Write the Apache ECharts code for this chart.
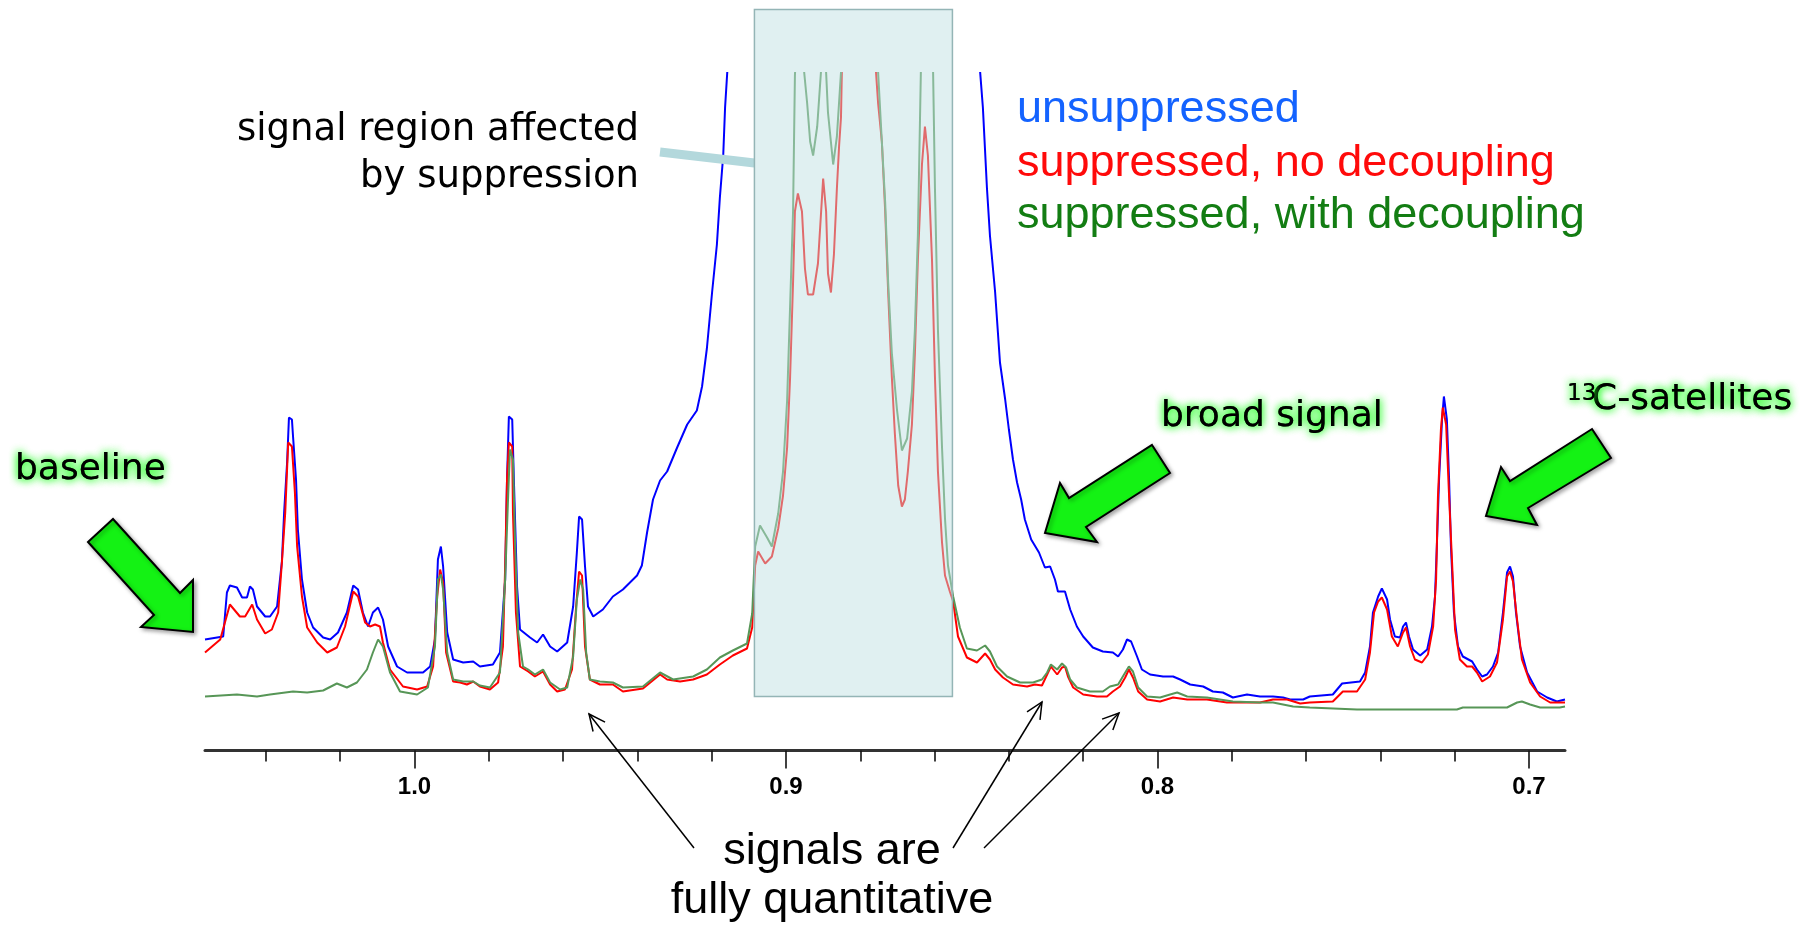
<!DOCTYPE html>
<html>
<head>
<meta charset="utf-8">
<script src="https://cdn.jsdelivr.net/npm/echarts@6/dist/echarts.min.js"></script>
<style>
html,body{margin:0;padding:0;background:#ffffff;}
#chart{width:1810px;height:934px;}
</style>
</head>
<body>
<div id="chart"></div>
<script>
// ---- axis (chemical shift, ppm) ----
const shiftMin = 0.6903;
const shiftMax = 1.0564;
const majorTicks = [0.7, 0.8, 0.9, 1.0];
const minorTicks = [0.72, 0.74, 0.76, 0.78, 0.82, 0.84, 0.86, 0.88, 0.92, 0.94, 0.96, 0.98, 1.02, 1.04];
const intensityMax = 677.5;

// ---- suppression region (ppm) and its intensity extent ----
const suppressionRegion = [0.9085, 0.8552];
const suppressionIntensity = [54, 741];

// ---- spectra: [ppm, intensity (a.u.)] ----
const unsuppressed = [
[1.0564,111],[1.0515,114],[1.0505,158],[1.0497,165],[1.0478,163],[1.0464,153],[1.0451,153],[1.0443,164],[1.0435,161],[1.0424,144],[1.0402,134],[1.0389,134],[1.0370,144],[1.0357,189],[1.0351,238],[1.0343,288],[1.0338,333],[1.0330,331],[1.0327,314],[1.0319,271],[1.0314,221],[1.0303,171],[1.0289,138],[1.0273,123],[1.0246,113],[1.0227,111],[1.0206,118],[1.0182,138],[1.0165,165],[1.0152,161],[1.0139,138],[1.0125,124],[1.0112,138],[1.0098,143],[1.0085,131],[1.0071,104],[1.0047,84],[1.0020,78],[0.9977,78],[0.9958,84],[0.9945,111],[0.9937,191],[0.9929,204],[0.9923,184],[0.9912,118],[0.9896,91],[0.9869,88],[0.9842,89],[0.9824,84],[0.9789,86],[0.9770,98],[0.9756,171],[0.9751,271],[0.9746,334],[0.9737,331],[0.9732,264],[0.9724,164],[0.9716,121],[0.9689,113],[0.9670,108],[0.9654,116],[0.9635,104],[0.9616,99],[0.9589,108],[0.9573,144],[0.9563,198],[0.9557,234],[0.9549,231],[0.9541,184],[0.9533,144],[0.9519,134],[0.9493,141],[0.9466,154],[0.9439,161],[0.9401,175],[0.9388,185],[0.9374,218],[0.9358,251],[0.9339,270],[0.9320,279],[0.9293,303],[0.9266,326],[0.9240,340],[0.9226,364],[0.9213,402],[0.9199,458],[0.9186,506],[0.9178,553],[0.9169,595],[0.9164,643],[0.9156,691],[0.9124,851],[0.8962,1000],[0.8693,1000],[0.8491,851],[0.8480,691],[0.8470,643],[0.8459,562],[0.8451,515],[0.8437,458],[0.8424,388],[0.8410,351],[0.8400,321],[0.8389,291],[0.8378,268],[0.8367,251],[0.8357,231],[0.8340,211],[0.8319,198],[0.8303,183],[0.8289,184],[0.8276,171],[0.8268,159],[0.8249,159],[0.8235,141],[0.8217,124],[0.8200,114],[0.8174,103],[0.8147,99],[0.8120,98],[0.8106,94],[0.8093,101],[0.8082,111],[0.8071,109],[0.8055,94],[0.8042,81],[0.8020,76],[0.7985,74],[0.7958,74],[0.7939,71],[0.7912,66],[0.7877,64],[0.7851,59],[0.7824,58],[0.7797,53],[0.7759,56],[0.7724,54],[0.7689,54],[0.7662,53],[0.7643,51],[0.7608,51],[0.7590,54],[0.7528,56],[0.7503,67],[0.7455,69],[0.7441,78],[0.7428,104],[0.7420,138],[0.7406,154],[0.7396,162],[0.7382,151],[0.7374,131],[0.7361,114],[0.7347,113],[0.7339,124],[0.7331,128],[0.7323,114],[0.7312,101],[0.7293,95],[0.7274,101],[0.7261,124],[0.7253,154],[0.7248,204],[0.7242,271],[0.7234,331],[0.7229,354],[0.7221,331],[0.7215,271],[0.7210,204],[0.7202,138],[0.7191,104],[0.7178,94],[0.7153,89],[0.7140,81],[0.7126,74],[0.7113,76],[0.7097,84],[0.7083,98],[0.7070,138],[0.7059,178],[0.7051,184],[0.7043,174],[0.7035,138],[0.7024,104],[0.7005,78],[0.6978,59],[0.6951,53],[0.6925,49],[0.6903,51]
];

const suppressedNoDecoupling = [
[1.0564,98],[1.0523,111],[1.0497,146],[1.0470,134],[1.0456,134],[1.0437,146],[1.0424,131],[1.0402,117],[1.0384,121],[1.0367,138],[1.0357,188],[1.0348,238],[1.0340,308],[1.0330,304],[1.0322,258],[1.0316,204],[1.0303,154],[1.0289,123],[1.0262,108],[1.0235,98],[1.0209,103],[1.0187,124],[1.0165,159],[1.0152,154],[1.0133,128],[1.0120,124],[1.0106,126],[1.0093,124],[1.0085,108],[1.0066,81],[1.0031,64],[0.9993,61],[0.9966,64],[0.9950,84],[0.9939,154],[0.9931,181],[0.9923,168],[0.9915,98],[0.9896,69],[0.9877,68],[0.9859,66],[0.9842,69],[0.9824,64],[0.9797,61],[0.9775,68],[0.9762,104],[0.9756,184],[0.9751,271],[0.9746,308],[0.9737,304],[0.9735,238],[0.9727,138],[0.9716,84],[0.9694,79],[0.9676,74],[0.9654,79],[0.9635,66],[0.9616,59],[0.9595,61],[0.9576,81],[0.9565,144],[0.9557,179],[0.9549,175],[0.9541,104],[0.9528,71],[0.9501,66],[0.9466,66],[0.9439,59],[0.9385,62],[0.9339,76],[0.9320,71],[0.9285,69],[0.9250,71],[0.9213,76],[0.9178,86],[0.9143,95],[0.9105,102],[0.9091,123],[0.9083,185],[0.9075,199],[0.9056,187],[0.9038,194],[0.9021,222],[0.9008,255],[0.8997,303],[0.8989,373],[0.8981,468],[0.8976,539],[0.8968,557],[0.8957,539],[0.8949,482],[0.8941,456],[0.8927,456],[0.8914,487],[0.8900,572],[0.8892,539],[0.8887,477],[0.8879,458],[0.8871,496],[0.8863,562],[0.8857,605],[0.8852,633],[0.8849,691],[0.8828,851],[0.8779,851],[0.8760,691],[0.8752,647],[0.8742,609],[0.8733,539],[0.8725,458],[0.8715,373],[0.8707,317],[0.8698,265],[0.8688,244],[0.8680,251],[0.8672,279],[0.8661,326],[0.8653,397],[0.8645,491],[0.8634,586],[0.8626,624],[0.8618,595],[0.8607,491],[0.8599,373],[0.8591,279],[0.8580,208],[0.8572,175],[0.8559,159],[0.8550,149],[0.8537,114],[0.8513,93],[0.8486,88],[0.8464,97],[0.8451,91],[0.8437,81],[0.8416,73],[0.8389,66],[0.8351,64],[0.8330,66],[0.8311,65],[0.8297,76],[0.8287,84],[0.8270,76],[0.8257,83],[0.8249,84],[0.8241,74],[0.8227,63],[0.8200,56],[0.8163,54],[0.8136,54],[0.8120,59],[0.8101,64],[0.8087,73],[0.8077,81],[0.8066,73],[0.8052,59],[0.8028,51],[0.7993,49],[0.7958,53],[0.7920,51],[0.7867,51],[0.7813,48],[0.7778,48],[0.7724,48],[0.7689,51],[0.7651,51],[0.7616,47],[0.7590,48],[0.7528,49],[0.7501,59],[0.7463,59],[0.7441,71],[0.7428,98],[0.7417,138],[0.7406,149],[0.7396,153],[0.7382,141],[0.7369,114],[0.7353,104],[0.7339,118],[0.7331,123],[0.7320,104],[0.7307,91],[0.7288,88],[0.7272,96],[0.7258,124],[0.7250,171],[0.7245,254],[0.7237,321],[0.7232,343],[0.7223,326],[0.7215,254],[0.7207,188],[0.7199,121],[0.7186,91],[0.7167,84],[0.7153,84],[0.7140,78],[0.7126,69],[0.7105,74],[0.7086,88],[0.7070,131],[0.7059,174],[0.7051,179],[0.7043,169],[0.7032,131],[0.7019,91],[0.6997,68],[0.6970,54],[0.6943,48],[0.6903,48]
];

const suppressedWithDecoupling = [
[1.0564,54],[1.0478,56],[1.0424,54],[1.0389,56],[1.0327,59],[1.0289,58],[1.0246,60],[1.0209,67],[1.0182,63],[1.0155,68],[1.0128,81],[1.0112,98],[1.0098,111],[1.0085,104],[1.0066,78],[1.0039,59],[0.9993,56],[0.9964,63],[0.9945,104],[0.9937,171],[0.9929,176],[0.9923,161],[0.9912,98],[0.9896,71],[0.9869,69],[0.9842,69],[0.9824,65],[0.9797,63],[0.9770,78],[0.9756,171],[0.9748,254],[0.9743,301],[0.9735,291],[0.9729,204],[0.9721,118],[0.9708,84],[0.9694,81],[0.9676,76],[0.9654,81],[0.9635,68],[0.9608,61],[0.9589,63],[0.9573,94],[0.9563,151],[0.9554,171],[0.9546,161],[0.9538,98],[0.9528,71],[0.9501,69],[0.9466,68],[0.9439,63],[0.9385,64],[0.9339,78],[0.9304,71],[0.9250,74],[0.9213,81],[0.9178,93],[0.9143,100],[0.9105,107],[0.9091,137],[0.9083,204],[0.9070,225],[0.9051,213],[0.9038,204],[0.9021,237],[0.9008,279],[0.8997,350],[0.8989,444],[0.8981,539],[0.8976,675],[0.8970,721],[0.8957,721],[0.8951,678],[0.8943,647],[0.8935,609],[0.8927,595],[0.8916,624],[0.8906,678],[0.8900,721],[0.8895,721],[0.8892,678],[0.8887,638],[0.8873,586],[0.8863,614],[0.8852,678],[0.8841,851],[0.8774,851],[0.8752,678],[0.8742,609],[0.8733,548],[0.8725,468],[0.8715,397],[0.8701,340],[0.8688,300],[0.8674,312],[0.8661,359],[0.8653,421],[0.8645,515],[0.8637,678],[0.8628,731],[0.8612,731],[0.8604,678],[0.8599,562],[0.8591,421],[0.8580,303],[0.8572,232],[0.8564,185],[0.8550,154],[0.8532,123],[0.8513,102],[0.8486,100],[0.8464,105],[0.8451,99],[0.8432,84],[0.8405,74],[0.8370,68],[0.8335,68],[0.8311,71],[0.8297,78],[0.8287,86],[0.8270,81],[0.8257,87],[0.8246,83],[0.8235,71],[0.8217,63],[0.8182,59],[0.8147,59],[0.8128,64],[0.8106,66],[0.8090,76],[0.8077,84],[0.8066,79],[0.8052,63],[0.8028,54],[0.7993,53],[0.7966,56],[0.7947,58],[0.7920,54],[0.7867,53],[0.7797,49],[0.7724,48],[0.7689,48],[0.7635,44],[0.7590,43],[0.7463,41],[0.7194,41],[0.7178,43],[0.7059,43],[0.7032,48],[0.7019,49],[0.6997,46],[0.6970,43],[0.6917,43],[0.6903,44]
];

const legendLabels = ['unsuppressed', 'suppressed, no decoupling', 'suppressed, with decoupling'];
const seriesColors = ['#0000ff', '#ff0000', '#579657'];
const legendColors = ['#1463ff', '#ff0a0a', '#137d13'];

const chart = echarts.init(document.getElementById('chart'), null, {renderer: 'canvas'});

function spectrum(name, data, color, z) {
  return {
    type: 'line', name: name, data: data, xAxisIndex: 0, yAxisIndex: 0,
    showSymbol: false, symbol: 'none', clip: true, z: z, silent: true,
    lineStyle: {color: color, width: 2}, emphasis: {disabled: true}
  };
}

chart.setOption({
  animation: false,
  backgroundColor: '#ffffff',
  grid: {left: 205, right: 245, top: 73, bottom: 183.5, containLabel: false, outerBoundsMode: 'none'},
  xAxis: [
    {
      type: 'value', min: shiftMin, max: shiftMax, inverse: true, position: 'bottom',
      axisLine: {show: true, onZero: false, lineStyle: {color: '#333333', width: 3}},
      axisTick: {show: true, customValues: majorTicks, length: 18, lineStyle: {color: '#111111', width: 1.6}},
      axisLabel: {show: true, customValues: majorTicks, formatter: v => Number(v).toFixed(1), margin: 25,
        fontSize: 24, fontWeight: 'bold', fontFamily: 'Liberation Sans', color: '#000000'},
      splitLine: {show: false}
    },
    {
      type: 'value', min: shiftMin, max: shiftMax, inverse: true, position: 'bottom',
      axisLine: {show: false, onZero: false},
      axisTick: {show: true, customValues: minorTicks, length: 11, lineStyle: {color: '#111111', width: 1.6}},
      axisLabel: {show: false},
      splitLine: {show: false}
    }
  ],
  yAxis: {type: 'value', min: 0, max: intensityMax, show: false, splitLine: {show: false}},
  series: [
    spectrum(legendLabels[0], unsuppressed, seriesColors[0], 2),
    spectrum(legendLabels[1], suppressedNoDecoupling, seriesColors[1], 3),
    spectrum(legendLabels[2], suppressedWithDecoupling, seriesColors[2], 4)
  ]
});

// ---- annotations ----
const p1 = chart.convertToPixel({gridIndex: 0}, [suppressionRegion[0], suppressionIntensity[1]]);
const p2 = chart.convertToPixel({gridIndex: 0}, [suppressionRegion[1], suppressionIntensity[0]]);

function txt(x, y, text, o) {
  return {type: 'text', x: x, y: y, z: 100, silent: true,
    style: Object.assign({text: text, fill: '#000000', fontFamily: 'DejaVu Sans', fontSize: 36,
      align: 'left', verticalAlign: 'middle'}, o || {})};
}
function glow(x, y, text, o) {
  const base = Object.assign({textShadowColor: '#22ff22', textShadowBlur: 9}, o || {});
  return [txt(x, y, text, base), txt(x, y, text, base)];
}
function greenArrow(pts) {
  return {type: 'polygon', z: 90, silent: true, shape: {points: pts},
    style: {fill: '#14f214', stroke: '#000000', lineWidth: 2, lineJoin: 'miter',
      shadowBlur: 4, shadowColor: 'rgba(0,0,0,0.35)', shadowOffsetX: 2, shadowOffsetY: 2}};
}
function thinArrow(x1, y1, x2, y2) {
  const dx = x2 - x1, dy = y2 - y1, L = Math.hypot(dx, dy);
  const bx = -dx / L, by = -dy / L, a = 25 * Math.PI / 180, len = 18;
  const c = Math.cos(a), s = Math.sin(a);
  const r1 = [bx * c - by * s, bx * s + by * c];
  const r2 = [bx * c + by * s, -bx * s + by * c];
  return [
    {type: 'line', z: 95, silent: true, shape: {x1: x1, y1: y1, x2: x2, y2: y2}, style: {stroke: '#000000', lineWidth: 1.5}},
    {type: 'polyline', z: 95, silent: true,
      shape: {points: [[x2 + r1[0] * len, y2 + r1[1] * len], [x2, y2], [x2 + r2[0] * len, y2 + r2[1] * len]]},
      style: {stroke: '#000000', lineWidth: 1.5, fill: null}}
  ];
}

const graphics = [];
// suppression region box and connector
graphics.push({type: 'line', z: 40, silent: true,
  shape: {x1: 660, y1: 152, x2: p1[0], y2: 163}, style: {stroke: '#b3d8dc', lineWidth: 9}});
graphics.push({type: 'rect', z: 50, silent: true,
  shape: {x: p1[0], y: p1[1], width: p2[0] - p1[0], height: p2[1] - p1[1]},
  style: {fill: 'rgba(190,224,225,0.48)', stroke: '#94b5b6', lineWidth: 1.5}});
graphics.push(txt(639, 130, 'signal region affected', {align: 'right', fontSize: 37}));
graphics.push(txt(639, 177, 'by suppression', {align: 'right', fontSize: 37}));

// legend text
graphics.push(txt(1017, 110, legendLabels[0], {fill: legendColors[0], fontFamily: 'Liberation Sans', fontSize: 45}));
graphics.push(txt(1017, 164, legendLabels[1], {fill: legendColors[1], fontFamily: 'Liberation Sans', fontSize: 45}));
graphics.push(txt(1017, 216, legendLabels[2], {fill: legendColors[2], fontFamily: 'Liberation Sans', fontSize: 45}));

// green labelled arrows
graphics.push(...glow(15, 470, 'baseline'));
graphics.push(...glow(1161, 417, 'broad signal'));
graphics.push(...glow(1592, 400, 'C-satellites'));
graphics.push(...glow(1567, 394, '13', {fontSize: 23}));
graphics.push(greenArrow([[88, 542], [113, 519], [180, 593], [193, 580], [193, 632], [141, 627], [154, 615]]));
graphics.push(greenArrow([[1152, 445], [1170, 473], [1086, 527], [1097, 542], [1045, 533], [1060, 483], [1069, 498]]));
graphics.push(greenArrow([[1592, 429], [1611, 458], [1528, 508], [1537, 525], [1486, 516], [1501, 467], [1510, 481]]));

// quantitative signals
graphics.push(...thinArrow(694, 848, 589, 714));
graphics.push(...thinArrow(953, 848, 1042, 702));
graphics.push(...thinArrow(984, 848, 1119, 713));
graphics.push(txt(832, 852, 'signals are', {align: 'center', fontFamily: 'Liberation Sans', fontSize: 45}));
graphics.push(txt(832, 901, 'fully quantitative', {align: 'center', fontFamily: 'Liberation Sans', fontSize: 45}));

chart.setOption({graphic: {elements: graphics}});
</script>
</body>
</html>
